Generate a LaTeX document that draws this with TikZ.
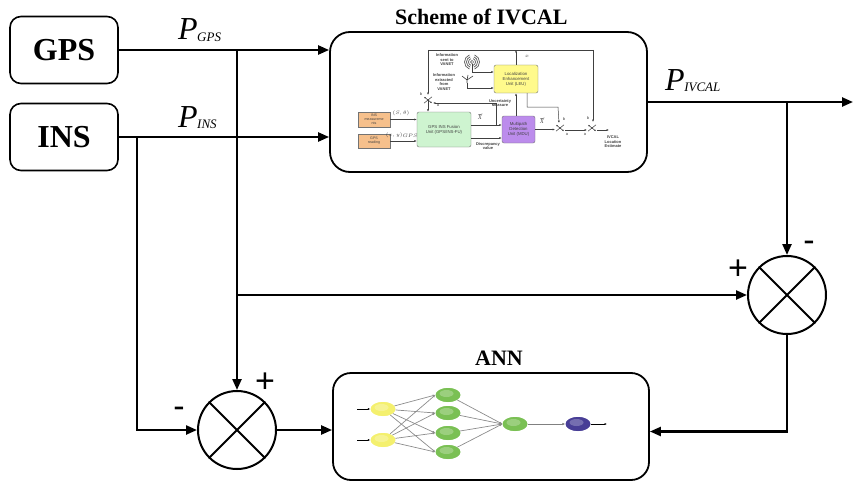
\documentclass[tikz,border=0pt]{standalone}
\usepackage{fontspec}
\setmainfont{Liberation Serif}
\newfontfamily\helv{Liberation Sans}
\usetikzlibrary{arrows.meta,calc,shapes.geometric}

\definecolor{insfill}{RGB}{246,192,140}
\definecolor{fufill}{RGB}{206,244,208}
\definecolor{leufill}{RGB}{255,250,140}
\definecolor{mdufill}{RGB}{188,140,236}
\definecolor{nnyellow}{RGB}{244,240,110}
\definecolor{nngreen}{RGB}{122,192,84}
\definecolor{nnblue}{RGB}{72,62,150}

% signal name: large italic P with a small italic subscript
\newcommand\signame[1]{{\fontsize{32}{32}\selectfont\itshape P}\kern-0.5pt\raisebox{-1.5pt}{\fontsize{13}{13}\selectfont\itshape #1}}

\tikzset{
  pics/toggle/.style={code={
    \draw[line width=0.5pt,draw=black!75,-{Latex[length=1.8pt,width=1.6pt]}] (0,0) -- (-4,-3.2);
    \draw[line width=0.5pt,draw=black!75,-{Latex[length=1.8pt,width=1.6pt]}] (0,0) -- (4,3.2);
    \draw[line width=0.5pt,draw=black!75] (-4,3.2) -- (4,-3.2);
    \fill[black!75] (0,0) circle (0.8pt);
  }},
  % small wavy accent drawn above an estimate symbol
  pics/tildemark/.style={code={
    \draw[black!75,line width=0.45pt] (-2,0.4) .. controls (-1,-1.2) and (0,1.2) .. (1,0) .. controls (1.4,-0.5) .. (2,-0.6);
  }}
}

\begin{document}
\begin{tikzpicture}[x=1pt,y=-1pt,
  wire/.style={line width=2.3pt,-{Triangle[length=11pt,width=9pt]}},
  srcbox/.style={draw,line width=1.6pt,rounded corners=11pt,minimum width=108pt,
    minimum height=67pt,font=\fontsize{32}{32}\selectfont\bfseries},
  bigbox/.style={draw,line width=1.8pt,rounded corners=20pt},
  summer/.style={draw,circle,line width=2pt,minimum size=78pt,inner sep=0pt},
  sign/.style={font=\helv\fontsize{34}{34}\selectfont,inner sep=0pt},
  heading/.style={font=\fontsize{22}{22}\selectfont\bfseries,anchor=base west,inner sep=0pt},
  siglabel/.style={anchor=base west,inner sep=0pt},
  unitbox/.style={draw=black!55,line width=0.4pt,rounded corners=2pt,align=center,
    font=\helv\fontsize{4.3}{4.9}\selectfont,text=black!75,inner sep=0.5pt},
  tinytext/.style={align=center,font=\helv\bfseries\fontsize{4}{4.5}\selectfont,
    text=black!75,inner sep=0pt},
  thin/.style={draw=black!75,line width=0.5pt,-{Latex[length=2.4pt,width=2pt]}},
  thinline/.style={draw=black!75,line width=0.5pt},
  neuron/.style={ellipse,minimum width=25pt,minimum height=14pt,inner sep=0pt},
  synapse/.style={draw=black!45,line width=0.7pt,-{Latex[length=2.6pt,width=2.4pt]}}
]
\useasboundingbox (0,0) rectangle (854,487);

% ---------------- sources ----------------
\node[srcbox] (gps) at (64,50) {GPS};
\node[srcbox] (ins) at (64,137) {INS};

% ---------------- IVCAL block ----------------
\node[bigbox,minimum width=317pt,minimum height=140pt] (ivcal) at (488.5,102) {};
\node[heading] (ivcaltitle) at (395,25) {Scheme of IVCAL};

% ---------------- ANN block ----------------
\node[bigbox,rounded corners=18pt,minimum width=316pt,minimum height=107pt] (ann) at (491,426.5) {};
\node[heading] (anntitle) at (475,365) {ANN};

% ---------------- summing junctions ----------------
\node[summer] (sumR) at (787,295) {};
\draw[line width=2pt] (sumR.north west) -- (sumR.south east) (sumR.north east) -- (sumR.south west);
\node[summer] (sumL) at (237,430) {};
\draw[line width=2pt] (sumL.north west) -- (sumL.south east) (sumL.north east) -- (sumL.south west);

\node[sign] (plusR) at (738,270) {+};
\node[sign] (minusR) at (809,246) {-};
\node[sign] (plusL) at (265,383) {+};
\node[sign] (minusL) at (179,412) {-};

% ---------------- branch points ----------------
\coordinate (jg) at (237,50);
\coordinate (jm) at (237,295);
\coordinate (ji) at (137,137);
\coordinate (jo) at (787,102);
\coordinate (out) at (853,102);

% ---------------- main signal flow ----------------
\draw[wire] (gps.east) -- (gps.east -| ivcal.west);
\draw[wire] (ins.east) -- (ins.east -| ivcal.west);
\draw[wire] (ivcal.east) -- (out);
\draw[wire] (jo) -- (sumR.north);
\draw[wire] (jm) -- (sumR.west);
\draw[wire] (jg) -- (sumL.north);
\draw[wire] (ji) |- (sumL.west);
\draw[wire] (sumL.east) -- (sumL.east -| ann.west);
\draw[wire] (sumR.south) |- ($(ann.east)+(0,5)$);

\node[siglabel] (pgps) at (178,40) {\signame{GPS}};
\node[siglabel] (pins) at (178,127) {\signame{INS}};
\node[siglabel] (pivcal) at (665,90) {\signame{IVCAL}};

% ---------------- inside the IVCAL block ----------------
\node[unitbox,fill=insfill,rounded corners=0pt,minimum width=32pt,minimum height=15pt,font=\helv\fontsize{3.6}{4.1}\selectfont] (insm) at (374,119.5) {INS\\measureme\\nts};
\node[unitbox,fill=insfill,rounded corners=0pt,minimum width=32pt,minimum height=14pt,font=\helv\fontsize{3.6}{4.1}\selectfont] (gpsr) at (374,141) {GPS\\reading};
\node[unitbox,fill=fufill,minimum width=54pt,minimum height=35pt] (fu) at (444,129.5) {GPS INS Fusion\\Unit (GPS/INS-FU)};
\node[unitbox,fill=leufill,minimum width=44pt,minimum height=28pt] (leu) at (516,79) {Localization\\Enhancement\\Unit (LEU)};
\node[unitbox,fill=mdufill,minimum width=33pt,minimum height=27pt] (mdu) at (518.5,129.5) {Multipath\\Detection\\Unit (MDU)};

\coordinate (tl) at (428,50);
\coordinate (tr) at (593,50);
\coordinate (sw1) at (428,100);
\coordinate (sw2) at (560,128);
\coordinate (sw3) at (592,128);
\coordinate (estim) at (609,130);
\coordinate (fx) at (471,125);
\coordinate (fd) at (471,138);
\coordinate (br) at (496,125);
\coordinate (lb) at (527,93);
\coordinate (lbr) at (558,107);
\coordinate (ant1) at (472,62);
\coordinate (ant2) at (467,80);

\pic at (sw1) {toggle};
\pic at (sw2) {toggle};
\pic at (sw3) {toggle};

\draw[thinline] (tl) -- (tr);
\draw[thin] (tr) -- ($(sw3)+(1,-6)$);
\draw[thin] (tl) -- ($(sw1)+(0,-5)$);
\draw[thin] (sw1) -- (sw1 |- fu.north);
\draw[thin] (leu.north) -- (leu.north |- tl);
\draw[thin] (insm.east) -- (insm.east -| fu.west);
\draw[thin] (gpsr.east) -- (gpsr.east -| fu.west);
\draw[thin] (fx) -- (fx -| mdu.west);
\draw[thin] (fd) -- (fd -| mdu.west);
\draw[thin] (br) |- ($(sw1)+(5,3)$);
\draw[thin] (mdu.north -| leu.south) -- (leu.south);
\draw[thin] (mdu.east) -- ($(sw2)+(-5,1.5)$);
\draw[thin] (lb) |- (lbr) -- ($(sw2)+(-1,-5)$);
\draw[thin] ($(sw2)+(5,2)$) -- ($(sw3)+(-5,2)$);
\draw[thin] ($(sw3)+(5,2)$) -- (estim);

% antennas
\draw[black!75,line width=0.5pt] (ant1) circle (1.6pt);
\foreach \r in {3.5,5.5,7.5}{
  \draw[black!65,line width=0.7pt] ($(ant1)+(\r,0)$) arc[start angle=0,end angle=70,radius=\r pt] ;
  \draw[black!65,line width=0.7pt] ($(ant1)+(\r,0)$) arc[start angle=0,end angle=-70,radius=\r pt] ;
  \draw[black!65,line width=0.7pt] ($(ant1)+(-\r,0)$) arc[start angle=180,end angle=110,radius=\r pt] ;
  \draw[black!65,line width=0.7pt] ($(ant1)+(-\r,0)$) arc[start angle=180,end angle=250,radius=\r pt] ;
}
\draw[thin] ($(ant1)+(0,2)$) |- ($(leu.west)+(0,-7)$);
\draw[black!75,line width=0.6pt] ($(ant2)+(0,3)$) -- (ant2) -- ($(ant2)+(-5,-4)$) (ant2) -- ($(ant2)+(6,-4)$) (ant2) -- ($(ant2)+(1,-5)$);
\draw[thin] ($(ant2)+(0,3)$) |- ($(leu.west)+(0,9)$);

% texts
\node[tinytext] (tsent) at (447,60) {Information\\sent to\\VANET};
\node[tinytext] (textr) at (444,82) {Information\\extracted\\from\\VANET};
\node[tinytext] (tunc) at (500,103) {Uncertainty\\Measure};
\node[tinytext] (tdisc) at (488,146) {Discrepancy\\value};
\node[tinytext] (test) at (613,142) {IVCAL\\Location\\Estimate};
\node[tinytext,font=\fontsize{4.5}{4.5}\selectfont] (tsth) at (401,113) {$(S,\theta)$};
\node[tinytext,font=\fontsize{4.3}{4.3}\selectfont] (txy) at (402,135) {$(x,y)_{GPS}$};
\node[tinytext,font=\fontsize{6}{6}\selectfont\itshape] (tx1) at (480,118) {X};
\pic at ($(tx1.north)+(0.3,-1.5)$) {tildemark};
\node[tinytext,font=\fontsize{6}{6}\selectfont\itshape] (tx2) at (542,122) {X};
\pic at ($(tx2.north)+(0.3,-1.5)$) {tildemark};
\node[tinytext,font=\fontsize{5}{5}\selectfont] (txh) at (527,56) {$x$};
\node[tinytext,font=\helv\fontsize{4}{4}\selectfont] (b1) at (421,94) {b};
\node[tinytext,font=\helv\fontsize{4}{4}\selectfont] (a1) at (438,105) {a};
\node[tinytext,font=\helv\fontsize{4}{4}\selectfont] (b2) at (564,119) {b};
\node[tinytext,font=\helv\fontsize{4}{4}\selectfont] (a2) at (567,134) {a};
\node[tinytext,font=\helv\fontsize{4}{4}\selectfont] (b3) at (588,118) {b};
\node[tinytext,font=\helv\fontsize{4}{4}\selectfont] (a3) at (585,134) {a};

% ---------------- inside the ANN block ----------------
\node[neuron,fill=nnyellow] (i1) at (383,409) {};
\node[neuron,fill=nnyellow] (i2) at (383,440) {};
\node[neuron,fill=nngreen] (h1) at (448,395) {};
\node[neuron,fill=nngreen] (h2) at (448,413) {};
\node[neuron,fill=nngreen] (h3) at (448,433) {};
\node[neuron,fill=nngreen] (h4) at (448,452) {};
\node[neuron,fill=nngreen] (o1) at (515,424) {};
\node[neuron,fill=nnblue] (f1) at (578,424) {};
\coordinate (in1) at (357,409);
\coordinate (in2) at (357,440);
\coordinate (nnout) at (607,424);

\foreach \i in {i1,i2}{
  \foreach \h in {h1,h2,h3,h4}{
    \draw[synapse] (\i) -- (\h.west);
  }
}
\foreach \h in {h1,h2,h3,h4}{
  \draw[synapse] (\h) -- (o1.west);
}
\draw[thin,black] (in1) -- (i1.west);
\draw[thin,black] (in2) -- (i2.west);
\draw[draw=black!50,line width=0.7pt,-{Latex[length=3pt,width=2.6pt]}] (o1.east) -- (f1.west);
\draw[thin,black] (f1.east) -- (nnout);
% neurons drawn again over the synapses, with a soft highlight
\foreach \n/\c in {i1/nnyellow,i2/nnyellow,h1/nngreen,h2/nngreen,h3/nngreen,h4/nngreen,o1/nngreen,f1/nnblue}{
  \fill[\c] (\n.center) ellipse[x radius=12pt,y radius=7pt];
  \fill[white,opacity=0.25] ($(\n.center)+(-1.5,-1.5)$) ellipse[x radius=7pt,y radius=3.5pt];
}
\end{tikzpicture}
\end{document}
